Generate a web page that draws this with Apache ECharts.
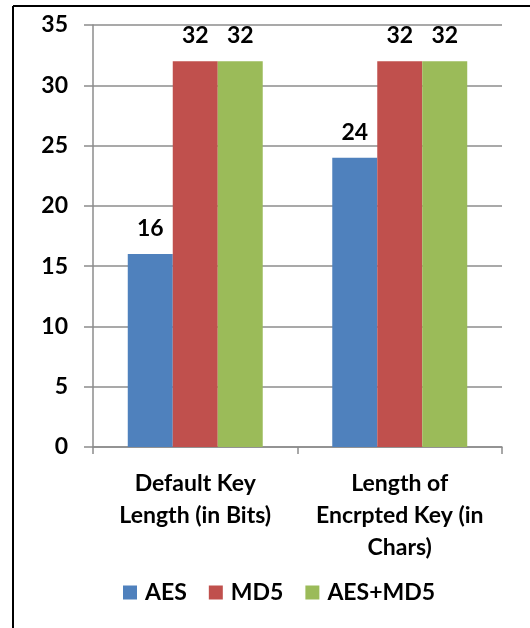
<!DOCTYPE html>
<html><head><meta charset="utf-8">
<script src="https://cdn.jsdelivr.net/npm/echarts@6/dist/echarts.min.js"></script>
<style>html,body{margin:0;padding:0;background:#fff}#c{width:530px;height:628px}</style>
</head><body><div id="c"></div>
<script>
const categories = ['Default Key\nLength (in Bits)', 'Length of\nEncrpted Key (in\nChars)'];
const seriesNames = ['AES', 'MD5', 'AES+MD5'];
const aesValues = [16, 24];
const md5Values = [32, 32];
const aesMd5Values = [32, 32];
const colors = ['#4F81BD', '#C0504D', '#9BBB59'];
const FONT = 'Lato';
const chart = echarts.init(document.getElementById('c'), null, {renderer: 'canvas'});
const gray = '#8c8c8c';
const labelStyle = {show: true, position: 'top', distance: 14, fontFamily: FONT, fontWeight: 'bold', fontSize: 23, color: '#000'};
const values = [aesValues, md5Values, aesMd5Values];
chart.setOption({
  animation: false,
  backgroundColor: '#fff',
  textStyle: {fontFamily: FONT},
  grid: {left: 93, right: 28, top: 25, bottom: 181, containLabel: false},
  legend: {
    bottom: 19, left: 118,
    itemWidth: 14, itemHeight: 14, itemGap: 22,
    icon: 'rect',
    textStyle: {fontFamily: FONT, fontWeight: 'bold', fontSize: 23, color: '#000', padding: [0, 0, 0, 3]},
    data: seriesNames
  },
  xAxis: {
    type: 'category', data: categories,
    axisLine: {lineStyle: {color: gray, width: 1.5}},
    axisTick: {show: true, length: 7, lineStyle: {color: gray, width: 1.5}},
    axisLabel: {fontFamily: FONT, fontWeight: 'bold', fontSize: 23, color: '#000', lineHeight: 32, margin: 21, interval: 0}
  },
  yAxis: {
    type: 'value', min: 0, max: 35, interval: 5,
    axisLine: {show: true, lineStyle: {color: gray, width: 1.5}},
    axisTick: {show: true, length: 9, lineStyle: {color: gray, width: 1.5}},
    splitLine: {lineStyle: {color: gray, width: 1.5}},
    axisLabel: {fontFamily: FONT, fontWeight: 'bold', fontSize: 23, color: '#000', margin: 25}
  },
  graphic: [
    {type: 'line', shape: {x1: 13, y1: 6, x2: 13, y2: 628}, style: {stroke: '#000', lineWidth: 2}},
    {type: 'line', shape: {x1: 13, y1: 6, x2: 530, y2: 6}, style: {stroke: '#000', lineWidth: 2}}
  ],
  series: seriesNames.map((n, i) => ({
    name: n, type: 'bar', data: values[i],
    barGap: '0%', barCategoryGap: '34%',
    itemStyle: {color: colors[i]},
    label: labelStyle
  }))
});
</script></body></html>
